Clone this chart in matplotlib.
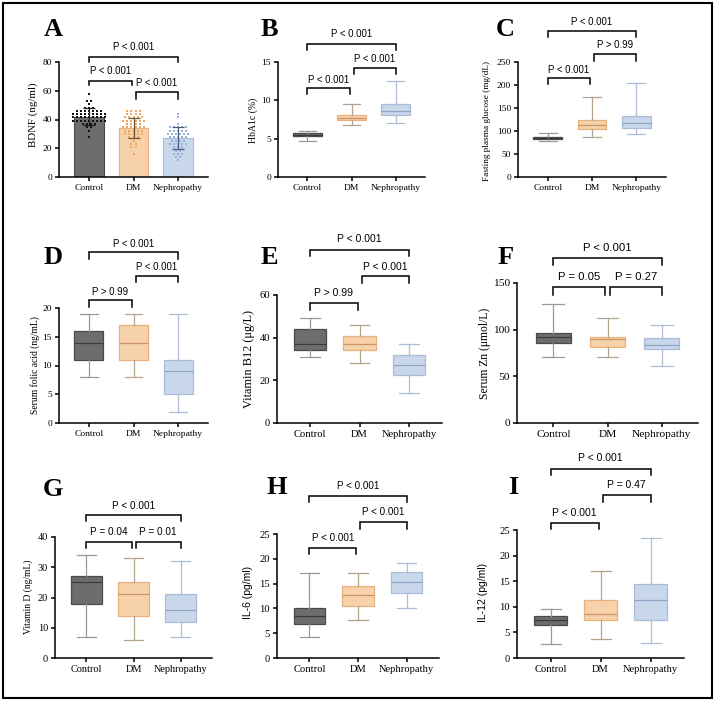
import matplotlib
matplotlib.use("Agg")
import matplotlib.pyplot as plt
from matplotlib.patches import Rectangle
import numpy as np

# ---------------- data ----------------
groups = ["Control", "DM", "Nephropathy"]

# Panel A: BDNF (ng/ml) individual points, bar means and SDs
bdnf_control = [58, 53, 53, 51, 49, 48, 48, 47, 47, 46, 46, 45, 45, 45, 44, 44, 44, 44,
                43, 43, 43, 43, 43, 42, 42, 42, 42, 42, 41, 41, 41, 41, 40, 40, 40, 40,
                39, 39, 39, 38, 38, 37, 37, 36, 36, 35, 34, 33, 27]
bdnf_dm = [46, 46, 46, 46, 44, 44, 44, 43, 42, 42, 42, 41, 41, 40, 39, 39, 39, 38, 38,
           37, 37, 36, 36, 35, 35, 35, 34, 34, 34, 33, 33, 33, 32, 32, 31, 31, 30, 30,
           29, 28, 27, 27, 25, 24, 23, 21, 20, 16]
bdnf_neph = [44, 41, 36, 35, 35, 35, 34, 34, 33, 33, 33, 32, 32, 31, 31, 30, 30, 29, 29,
             28, 28, 28, 27, 27, 26, 26, 25, 25, 24, 24, 23, 22, 22, 21, 20, 20, 19, 18,
             17, 16, 15, 14, 13, 12]
bdnf_mean = [42, 34, 27]
bdnf_sd = [6, 7, 7.5]
bdnf_p = ["P < 0.001", "P < 0.001", "P < 0.001"]   # C-DM, DM-N, C-N

# Box-plot panels: [min, Q1, median, Q3, max] per group
hba1c = [[4.65, 5.3, 5.5, 5.7, 6.05], [6.8, 7.45, 7.75, 8.15, 9.55], [7.1, 8.15, 8.6, 9.5, 12.5]]
hba1c_p = ["P < 0.001", "P < 0.001", "P < 0.001"]
fpg = [[78, 82, 84, 87, 95], [86, 104, 114, 125, 175], [94, 106, 117, 132, 204]]
fpg_p = ["P < 0.001", "P > 0.99", "P < 0.001"]
folic = [[8, 11, 14, 16, 19], [8, 11, 14, 17, 19], [2, 5, 9, 11, 19]]
folic_p = ["P > 0.99", "P < 0.001", "P < 0.001"]
b12 = [[31, 34, 37, 44, 49], [28, 34, 37, 41, 46], [14, 22.5, 27, 32, 37]]
b12_p = ["P > 0.99", "P < 0.001", "P < 0.001"]
zinc = [[71, 86, 92, 96, 127], [71, 81, 89.5, 92.5, 112], [61, 79, 84, 91, 105]]
zinc_p = ["P = 0.05", "P = 0.27", "P < 0.001"]
vitd = [[7, 18, 25, 27, 34], [6, 14, 21, 25, 33], [7, 12, 16, 21, 32]]
vitd_p = ["P = 0.04", "P = 0.01", "P < 0.001"]
il6 = [[4.2, 6.9, 8.5, 10.0, 17.1], [7.6, 10.55, 12.7, 14.6, 17.2], [10.1, 13.2, 15.3, 17.4, 19.2]]
il6_p = ["P < 0.001", "P < 0.001", "P < 0.001"]
il12 = [[2.7, 6.4, 7.45, 8.3, 9.5], [3.7, 7.5, 8.55, 11.4, 16.9], [2.9, 7.4, 11.3, 14.4, 23.5]]
il12_p = ["P < 0.001", "P = 0.47", "P < 0.001"]

# ---------------- style ----------------
SERIF = "Liberation Serif"
SANS = "Liberation Sans"
face = ["#6d6d6d", "#f6d1aa", "#c9d7eb"]
edge = ["#4a4a4a", "#e7b27c", "#a9bdd9"]
whisk = ["#9a9a9a", "#b3a391", "#aebdd3"]
medc = ["#3c3c3c", "#c99468", "#8ea5c6"]
bar_err = ["#222222", "#6e5236", "#4b5b7a"]
pt_col = ["#111111", "#f0a85e", "#93b2db"]

W, H = 720, 710
fig = plt.figure(figsize=(7.2, 7.1), dpi=100)
fig.patch.set_facecolor("white")


def make_ax(x0, x1, ytop, ybot, ymax, ystep, fs):
    ax = fig.add_axes([x0 / W, 1 - ybot / H, (x1 - x0) / W, (ybot - ytop) / H])
    ax.set_xlim(-0.67, 2.67)
    ax.set_ylim(0, ymax)
    ax.set_yticks(np.arange(0, ymax + 1e-9, ystep))
    ax.set_xticks([0, 1, 2])
    ax.set_xticklabels(groups)
    for s in ["top", "right"]:
        ax.spines[s].set_visible(False)
    for s in ["left", "bottom"]:
        ax.spines[s].set_linewidth(1.1)
    ax.tick_params(length=3, width=1.1, labelsize=fs, pad=2)
    for lab in ax.get_xticklabels() + ax.get_yticklabels():
        lab.set_family(SERIF)
    ax.patch.set_alpha(0)
    return ax


def boxes(ax, stats):
    for i, s in enumerate(stats):
        d = dict(whislo=s[0], q1=s[1], med=s[2], q3=s[3], whishi=s[4])
        ax.bxp([d], positions=[i], widths=0.65, showfliers=False, patch_artist=True,
               boxprops=dict(facecolor=face[i], edgecolor=edge[i], linewidth=0.9),
               whiskerprops=dict(color=whisk[i], linewidth=0.9),
               capprops=dict(color=whisk[i], linewidth=0.9),
               medianprops=dict(color=medc[i], linewidth=0.9),
               capwidths=0.4, manage_ticks=False)


def bracket(ax, x1, x2, yl, yb, yt, txt, fs):
    ax.plot([x1, x1, x2, x2], [yb, yl, yl, yb], color="black", lw=1.1,
            clip_on=False, solid_joinstyle="miter")
    ax.text((x1 + x2) / 2, yt, txt, ha="center", va="center", fontsize=fs,
            family=SANS, clip_on=False)


def brackets(ax, p, b1, b2, b3, fs):
    # b = (line, tick bottom, text) in data units
    bracket(ax, 0, 0.96, *b1, p[0], fs)
    bracket(ax, 1.05, 2, *b2, p[1], fs)
    bracket(ax, 0, 2, *b3, p[2], fs)


def letter(x, y, t):
    fig.text(x / W, 1 - y / H, t, ha="center", va="center", fontsize=19,
             family=SERIF, weight="bold")


def ylabel(x, y, t, fs, fam=SERIF):
    fig.text(x / W, 1 - y / H, t, ha="center", va="center", rotation=90,
             fontsize=fs, family=fam)


# ---- A ----
ax = make_ax(59, 208, 62, 177, 80, 20, 6.8)
for i in range(3):
    ax.bar(i, bdnf_mean[i], width=0.67, color=face[i], edgecolor=edge[i], lw=0.8, zorder=1)
for i, vals in enumerate([bdnf_control, bdnf_dm, bdnf_neph]):
    vals = np.asarray(vals, float)
    rows = np.round(vals / 2.3)
    xs = np.zeros_like(vals)
    for r in np.unique(rows):
        idx = np.where(rows == r)[0]
        n = len(idx)
        xs[idx] = i + (np.arange(n) - (n - 1) / 2) * 0.09
    ax.scatter(xs, rows * 2.3, s=4.2, marker="s", color=pt_col[i], lw=0, zorder=3)
    ax.errorbar(i, bdnf_mean[i], yerr=bdnf_sd[i], color=bar_err[i], capsize=4,
                lw=0.9, capthick=0.9, zorder=4)
bracket(ax, 0, 0.96, 66.8, 64, 73.7, bdnf_p[0], 6.9)
bracket(ax, 1.05, 2, 59.1, 54.3, 65.4, bdnf_p[1], 6.9)
bracket(ax, 0, 2, 83.5, 80, 90.4, bdnf_p[2], 6.9)
letter(53, 30, "A")
ylabel(33, 115, "BDNF (ng/ml)", 7.8)

# ---- B ----
ax = make_ax(278, 425, 62, 177, 15, 5, 6.8)
boxes(ax, hba1c)
brackets(ax, hba1c_p, (11.65, 10.8, 12.7), (14.26, 13.4, 15.35), (17.4, 16.6, 18.6), 6.9)
letter(269, 30, "B")
ylabel(253, 120, "HbA1c (%)", 7.0)

# ---- C ----
ax = make_ax(518, 666, 62, 177, 250, 50, 6.8)
boxes(ax, fpg)
brackets(ax, fpg_p, (214.5, 201.5, 232.6), (267, 253, 286), (317, 304, 337.6), 6.9)
letter(505, 30, "C")
ylabel(487, 121, "Fasting plasma glucose (mg/dL)", 6.7)

# ---- D ----
ax = make_ax(59, 208, 308, 423, 20, 5, 6.8)
boxes(ax, folic)
brackets(ax, folic_p, (21.4, 20.2, 22.8), (25.6, 24.5, 27.1), (29.7, 28.6, 31.2), 6.9)
letter(53, 257, "D")
ylabel(35, 365, "Serum folic acid (ng/mL)", 6.9)

# ---- E ----
ax = make_ax(277, 442, 295, 423, 60, 20, 7.6)
boxes(ax, b12)
brackets(ax, b12_p, (56.4, 53, 60.8), (68.9, 65.8, 73.3), (81.1, 78.3, 86.1), 7.5)
letter(269, 258, "E")
ylabel(249, 359, "Vitamin B12 (μg/L)", 8.8)

# ---- F ----
ax = make_ax(517, 698, 283, 423, 150, 50, 8.2)
boxes(ax, zinc)
bracket(ax, 0, 0.96, 145.4, 137.2, 156.1, zinc_p[0], 8.2)
bracket(ax, 1.05, 2, 145.4, 137.2, 156.1, zinc_p[1], 8.2)
bracket(ax, 0, 2, 176.5, 169.3, 188, zinc_p[2], 8.2)
letter(506, 258, "F")
ylabel(485, 353, "Serum Zn (μmol/L)", 8.4)

# ---- G ----
ax = make_ax(55, 212, 537, 658, 40, 10, 7.4)
boxes(ax, vitd)
bracket(ax, 0, 0.96, 38.5, 36.3, 41.8, vitd_p[0], 7.2)
bracket(ax, 1.05, 2, 38.5, 36.3, 41.8, vitd_p[1], 7.2)
bracket(ax, 0, 2, 47.3, 45.3, 50.2, vitd_p[2], 7.2)
letter(53, 490, "G")
ylabel(28, 597, "Vitamin D (ng/mL)", 6.9)

# ---- H ----
ax = make_ax(277, 439, 534, 658, 25, 5, 7.6)
boxes(ax, il6)
brackets(ax, il6_p, (22.2, 20.9, 24.25), (27.5, 26.1, 29.5), (32.7, 31.5, 34.7), 7.1)
letter(277, 488, "H")
ylabel(248, 592, "IL-6 (pg/ml)", 7.5, SANS)

# ---- I ----
ax = make_ax(517, 684, 530, 658, 25, 5, 7.6)
boxes(ax, il12)
brackets(ax, il12_p, (26.4, 25.2, 28.4), (31.75, 30.5, 33.7), (37.0, 35.8, 39.1), 7.5)
letter(513, 487, "I")
ylabel(483, 592, "IL-12 (pg/ml)", 7.5, SANS)

# outer frame
fig.add_artist(Rectangle((3 / W, 12 / H), 709 / W, 695 / H, transform=fig.transFigure,
                         fill=False, edgecolor="black", lw=1.5))

fig.savefig("out.png", dpi=100)
